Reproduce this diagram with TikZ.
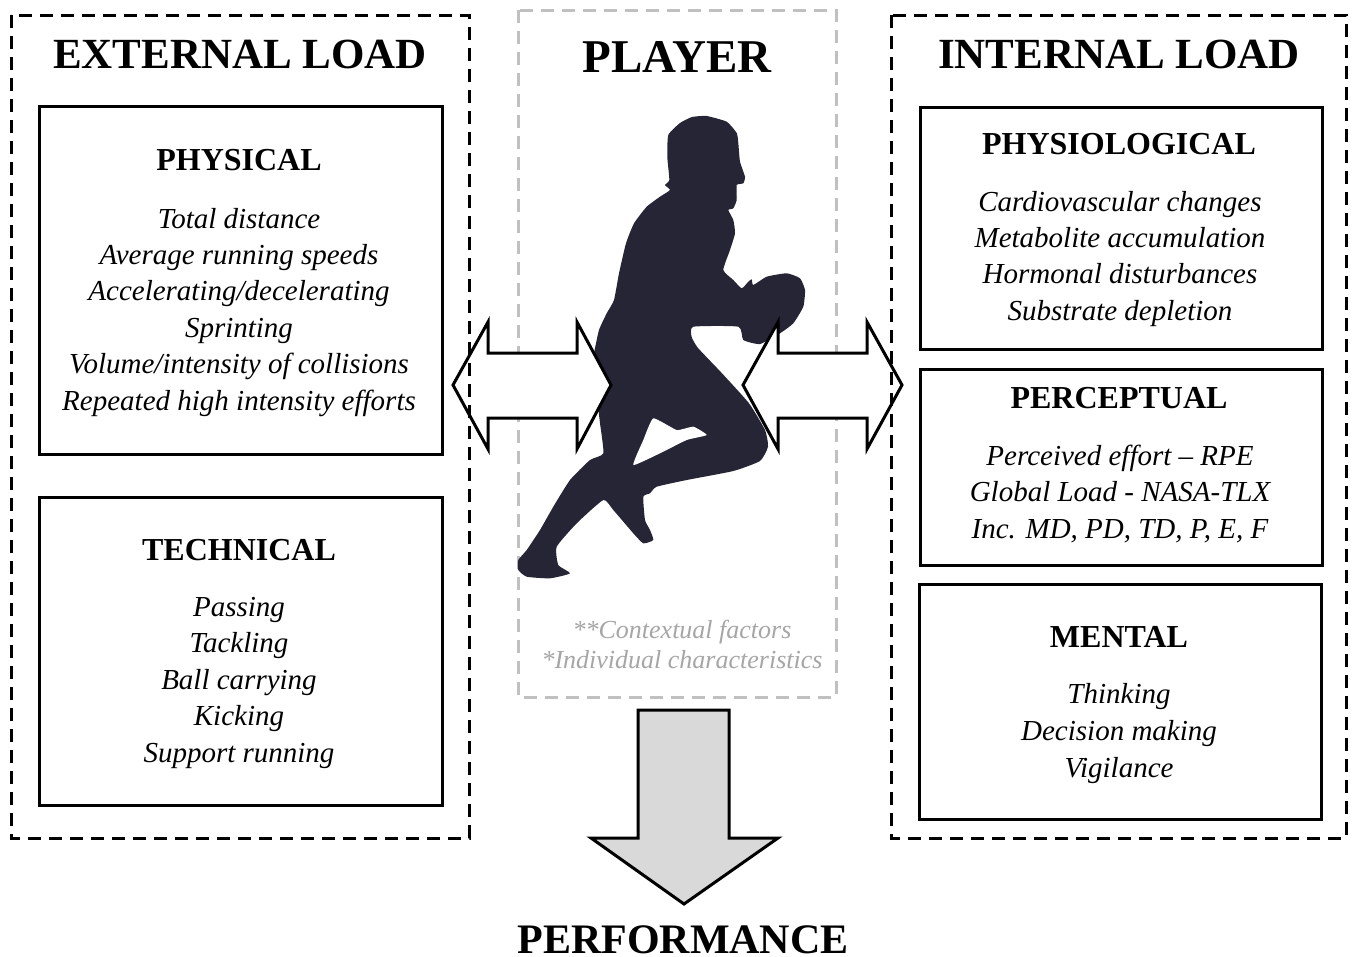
\documentclass[tikz,border=0pt]{standalone}
\usepackage{fontspec}
\setmainfont{Liberation Serif}
\definecolor{silcol}{HTML}{252535}
\definecolor{graytxt}{HTML}{A6A6A6}
\definecolor{graydash}{HTML}{C0C0C0}
\definecolor{arrowgray}{HTML}{D9D9D9}
\tikzset{
  titletxt/.style={font=\fontsize{43}{50}\selectfont\bfseries, anchor=base, inner sep=0},
  subtxt/.style={font=\fontsize{32}{38}\selectfont\bfseries, anchor=base, inner sep=0},
  itemtxt/.style={font=\fontsize{29}{35}\selectfont\itshape, anchor=base, inner sep=0},
  notetxt/.style={font=\fontsize{26}{30}\selectfont\itshape, text=graytxt, anchor=base, inner sep=0},
  panel/.style={draw, line width=3pt, inner sep=0, anchor=north west},
  dashbox/.style={draw, line width=3pt, dash pattern=on 13pt off 8pt},
  graybox/.style={draw=graydash, line width=3pt, dash pattern=on 13pt off 8pt},
  blockarrow/.style={draw, line width=3pt, line join=miter, miter limit=10},
}
\begin{document}
\begin{tikzpicture}[x=1pt,y=-1pt]
\useasboundingbox (0,0) rectangle (1354,956);
\fill[white] (0,0) rectangle (1354,956);

% center gray box
\draw[graybox] (518,10) rectangle (836,697);

% panels
\node[panel, minimum width=403pt, minimum height=348pt] (phys) at (38,105) {};
\node[panel, minimum width=403pt, minimum height=308pt] (tech) at (38,496) {};
\node[panel, minimum width=402pt, minimum height=242pt] (physio) at (919,106) {};
\node[panel, minimum width=402pt, minimum height=196pt] (percep) at (919,368) {};
\node[panel, minimum width=402pt, minimum height=235pt] (mental) at (918,583) {};

% titles
\node[titletxt] (ext) at (240,68) {EXTERNAL LOAD};
\node[titletxt] (int) at (1119,68) {INTERNAL LOAD};
\node[titletxt, font=\fontsize{47}{54}\selectfont\bfseries] (player) at (677,72) {PLAYER};
\node[titletxt, font=\fontsize{42}{50}\selectfont\bfseries] (perf) at (683,953) {PERFORMANCE};

% left panels text
\node[subtxt] (physt) at (239,170) {PHYSICAL};
\node[itemtxt] (p1) at (239,228) {Total distance};
\node[itemtxt] (p2) at (239,264.4) {Average running speeds};
\node[itemtxt] (p3) at (239,300.8) {Accelerating/decelerating};
\node[itemtxt] (p4) at (239,337.2) {Sprinting};
\node[itemtxt] (p5) at (239,373.6) {Volume/intensity of collisions};
\node[itemtxt] (p6) at (239,410) {Repeated high intensity efforts};

\node[subtxt] (techt) at (239,560) {TECHNICAL};
\node[itemtxt] (t1) at (239,616) {Passing};
\node[itemtxt] (t2) at (239,652.5) {Tackling};
\node[itemtxt] (t3) at (239,689) {Ball carrying};
\node[itemtxt] (t4) at (239,725.5) {Kicking};
\node[itemtxt] (t5) at (239,762) {Support running};

% right panels text
\node[subtxt] (physiot) at (1119,154) {PHYSIOLOGICAL};
\node[itemtxt] (ph1) at (1120,211) {Cardiovascular changes};
\node[itemtxt] (ph2) at (1120,247.3) {Metabolite accumulation};
\node[itemtxt] (ph3) at (1120,283.6) {Hormonal disturbances};
\node[itemtxt] (ph4) at (1120,320) {Substrate depletion};

\node[subtxt] (percept) at (1119,408) {PERCEPTUAL};
\node[itemtxt] (pe1) at (1120,465) {Perceived effort – RPE};
\node[itemtxt] (pe2) at (1120,501.5) {Global Load - NASA-TLX};
\node[itemtxt] (pe3) at (1120,538) {Inc. MD, PD, TD, P, E, F};

\node[subtxt] (mentalt) at (1119,647) {MENTAL};
\node[itemtxt] (m1) at (1119,703) {Thinking};
\node[itemtxt] (m2) at (1119,740) {Decision making};
\node[itemtxt] (m3) at (1119,777) {Vigilance};

% notes
\node[notetxt] (n1) at (682,638) {**Contextual factors};
\node[notetxt] (n2) at (682,668) {*Individual characteristics};

% silhouette
\fill[silcol] plot[smooth cycle, tension=0.3] coordinates {
 (706.7,116) (726.7,121.7) (736.7,133) (738.3,143) (740,161.7) (745,176.7) (743.3,183.3)
 (736.7,185) (736.7,200) (733.3,208.3) (728.3,210) (733.3,220) (735,233.3) (730,250)
 (723.3,270) (733.3,280) (741.7,288.3) (748.3,281.7) (751.7,279.3) (753.3,285)
 (766.7,276.7) (786.7,273.3) (800,278.3) (805,290) (803.3,306.7) (793.3,323.3)
 (780,333.3) (760,344) (743.3,340) (738.3,326.7)
 (693.3,326.7) (691.7,337) (698,348) (722,373.3) (749,403.3) (765,430)
 (768,446.7) (760,461) (733.3,471) (686.7,480) (656.7,486.7) (650,493.3) (643.3,496.7)
 (645,520) (650,530) (653.3,540) (643.3,543.3) (633.3,533.3) (613.3,510) (603.3,500)
 (576.7,523.3) (556.7,546.7) (558.3,565) (570,573.3) (550,578.3) (526.7,576.7)
 (518.3,570) (518.3,560) (526.7,550) (540,530) (553.3,506.7) (570,480) (590,460)
 (603.3,453.3) (600,423.3) (596.7,396.7) (591.7,370) (594,353.3) (599,330)
 (606.7,313.3) (614,300) (619,273.3) (626,243.3) (634,223.3) (646.7,206.7)
 (660,196.7) (670,190) (665,185) (669.3,180) (667.3,156.7) (668.3,135) (680,123) (692,117)};
\fill[white] plot[smooth cycle, tension=0.25] coordinates {
 (633.3,465) (643.3,440) (653.3,418.3) (676.7,430) (693.3,426.7) (706.7,435)
 (686.7,440) (660,453.3)};

% double arrows
\draw[blockarrow, fill=white] (453,385) -- (488,322) -- (488,353) -- (577,353) -- (577,322)
  -- (611,385) -- (577,449) -- (577,418) -- (488,418) -- (488,449) -- cycle;
\draw[blockarrow, fill=white] (743,385) -- (778,322) -- (778,353) -- (867,353) -- (867,322)
  -- (902,385) -- (867,449) -- (867,418) -- (778,418) -- (778,449) -- cycle;

% down arrow
\draw[blockarrow, fill=arrowgray] (638,710) -- (729,710) -- (729,838) -- (778,838)
  -- (684,904) -- (591,838) -- (638,838) -- cycle;

% dashed outer boxes
\draw[dashbox] (11,15) rectangle (469,838);
\draw[dashbox] (891,15) rectangle (1346,838);
\end{tikzpicture}
\end{document}
